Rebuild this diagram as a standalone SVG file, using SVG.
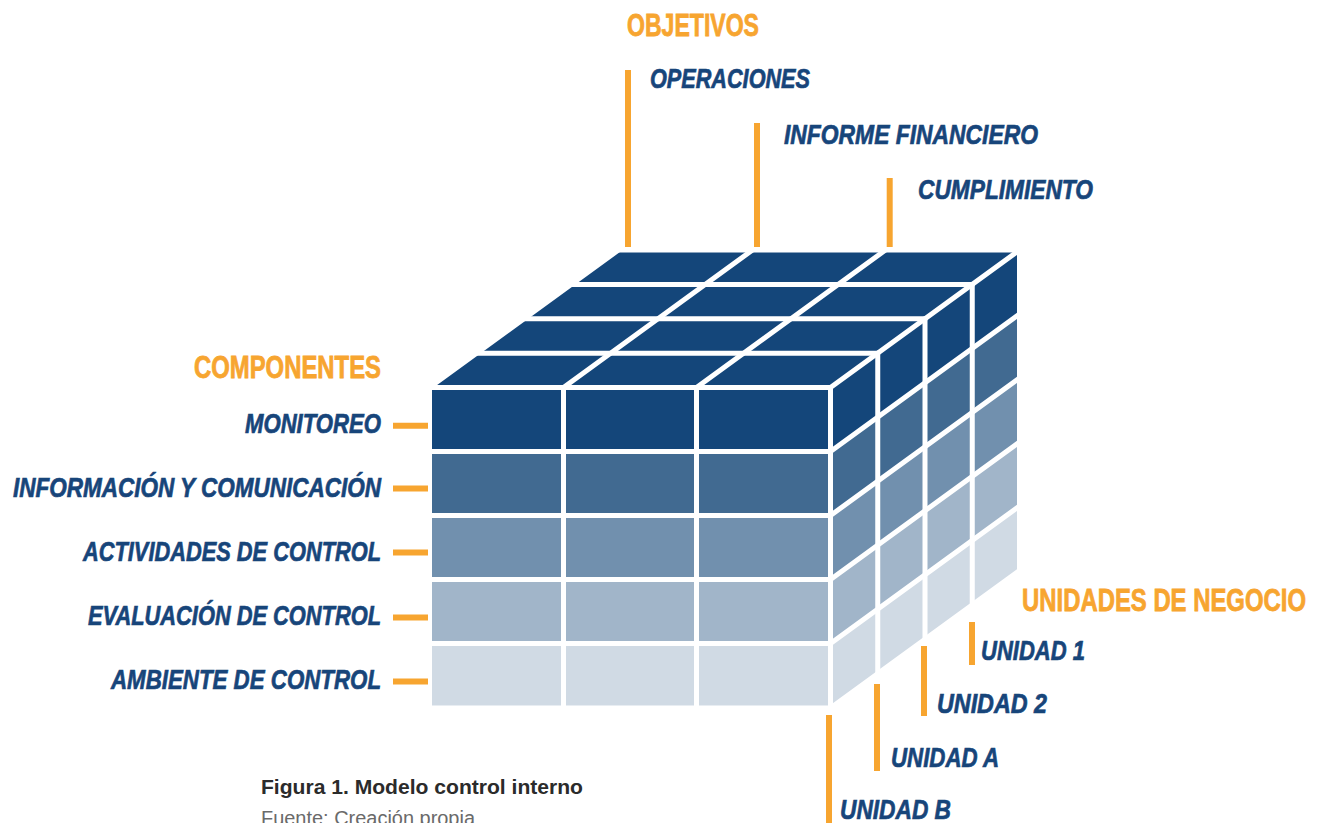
<svg xmlns="http://www.w3.org/2000/svg" width="1322" height="823" viewBox="0 0 1322 823">
  <style>
    .hdr { font-family: "Liberation Sans", Arial, sans-serif; font-weight: bold; font-size: 31px; fill: #f7a530; stroke: #f7a530; stroke-width: 0.8px; }
    .lbl { font-family: "Liberation Sans", Arial, sans-serif; font-weight: bold; font-style: italic; font-size: 28px; fill: #17457a; stroke: #17457a; stroke-width: 0.7px; }
    .cap { font-family: "Liberation Sans", Arial, sans-serif; font-weight: bold; font-size: 19.5px; fill: #2b2b2b; }
    .src { font-family: "Liberation Sans", Arial, sans-serif; font-size: 19.5px; fill: #6a6a6a; }
    .c1 { fill: #14467a; }
    .c2 { fill: #416a91; }
    .c3 { fill: #7190ae; }
    .c4 { fill: #a1b5c9; }
    .c5 { fill: #d0dae4; }
    .grid { stroke: #ffffff; stroke-width: 5; fill: none; stroke-linecap: round; stroke-linejoin: round; }
    .conn { stroke: #f7a530; stroke-width: 6; fill: none; }
  </style>
  <rect x="0" y="0" width="1322" height="823" fill="#ffffff"/>

  <g id="cube">
    <g id="front-face">
      <rect class="c1" x="429.5" y="387.5" width="401" height="64"/>
      <rect class="c2" x="429.5" y="451.5" width="401" height="64"/>
      <rect class="c3" x="429.5" y="515.5" width="401" height="64"/>
      <rect class="c4" x="429.5" y="579.5" width="401" height="64"/>
      <rect class="c5" x="429.5" y="643.5" width="401" height="64.5"/>
    </g>
    <g id="top-face">
      <polygon class="c1" points="429.5,387.5 830.5,387.5 1019.5,250 618.5,250"/>
    </g>
    <g id="side-face">
      <polygon class="c1" points="830.5,387.5 1019.5,250 1019.5,314 830.5,451.5"/>
      <polygon class="c2" points="830.5,451.5 1019.5,314 1019.5,378 830.5,515.5"/>
      <polygon class="c3" points="830.5,515.5 1019.5,378 1019.5,442 830.5,579.5"/>
      <polygon class="c4" points="830.5,579.5 1019.5,442 1019.5,506 830.5,643.5"/>
      <polygon class="c5" points="830.5,643.5 1019.5,506 1019.5,570.5 830.5,708"/>
    </g>
    <g id="grid-lines" class="grid">
      <path d="M429.5,387.5V708 M563.5,387.5V708 M696.5,387.5V708 M830.5,387.5V708"/>
      <path d="M429.5,387.5H830.5 M429.5,451.5H830.5 M429.5,515.5H830.5 M429.5,579.5H830.5 M429.5,643.5H830.5 M429.5,708H830.5"/>
      <path d="M476.75,353.125H877.75 M524,318.75H925 M571.25,284.375H972.25 M618.5,250H1019.5"/>
      <path d="M429.5,387.5L618.5,250 M563.5,387.5L752.5,250 M696.5,387.5L885.5,250 M830.5,387.5L1019.5,250"/>
      <path d="M877.75,353.125V673.625 M925,318.75V639.25 M972.25,284.375V604.875 M1019.5,250V570.5"/>
      <path d="M830.5,451.5L1019.5,314 M830.5,515.5L1019.5,378 M830.5,579.5L1019.5,442 M830.5,643.5L1019.5,506 M830.5,708L1019.5,570.5"/>
    </g>
  </g>

  <g id="connectors">
    <line class="conn" x1="628" y1="70" x2="628" y2="247"/>
    <line class="conn" x1="757" y1="123" x2="757" y2="247"/>
    <line class="conn" x1="889.7" y1="178" x2="889.7" y2="247"/>
    <line class="conn" x1="393" y1="425.7" x2="428" y2="425.7"/>
    <line class="conn" x1="393" y1="488.5" x2="428" y2="488.5"/>
    <line class="conn" x1="393" y1="552.5" x2="428" y2="552.5"/>
    <line class="conn" x1="393" y1="617.5" x2="428" y2="617.5"/>
    <line class="conn" x1="393" y1="681.5" x2="428" y2="681.5"/>
    <line class="conn" x1="972" y1="622" x2="972" y2="665"/>
    <line class="conn" x1="924" y1="646" x2="924" y2="716"/>
    <line class="conn" x1="877" y1="684" x2="877" y2="771"/>
    <line class="conn" x1="829" y1="715" x2="829" y2="823"/>
  </g>

  <g id="objetivos">
    <text class="hdr" x="627" y="36" textLength="132" lengthAdjust="spacingAndGlyphs">OBJETIVOS</text>
  </g>
  <g id="operaciones">
    <text class="lbl" x="650" y="88" textLength="160" lengthAdjust="spacingAndGlyphs">OPERACIONES</text>
  </g>
  <g id="informe-financiero">
    <text class="lbl" x="784" y="144" textLength="254" lengthAdjust="spacingAndGlyphs">INFORME FINANCIERO</text>
  </g>
  <g id="cumplimiento">
    <text class="lbl" x="918" y="199" textLength="175" lengthAdjust="spacingAndGlyphs">CUMPLIMIENTO</text>
  </g>

  <g id="componentes">
    <text class="hdr" x="194" y="378" textLength="187" lengthAdjust="spacingAndGlyphs">COMPONENTES</text>
  </g>
  <g id="monitoreo">
    <text class="lbl" x="245" y="433" textLength="136" lengthAdjust="spacingAndGlyphs">MONITOREO</text>
  </g>
  <g id="informacion">
    <text class="lbl" x="13" y="497" textLength="368" lengthAdjust="spacingAndGlyphs">INFORMACIÓN Y COMUNICACIÓN</text>
  </g>
  <g id="actividades">
    <text class="lbl" x="83" y="561" textLength="298" lengthAdjust="spacingAndGlyphs">ACTIVIDADES DE CONTROL</text>
  </g>
  <g id="evaluacion">
    <text class="lbl" x="88" y="625" textLength="293" lengthAdjust="spacingAndGlyphs">EVALUACIÓN DE CONTROL</text>
  </g>
  <g id="ambiente">
    <text class="lbl" x="111" y="689" textLength="270" lengthAdjust="spacingAndGlyphs">AMBIENTE DE CONTROL</text>
  </g>

  <g id="unidades-negocio">
    <text class="hdr" x="1022" y="611" textLength="284" lengthAdjust="spacingAndGlyphs">UNIDADES DE NEGOCIO</text>
  </g>
  <g id="unidad-1">
    <text class="lbl" x="981" y="660" textLength="104" lengthAdjust="spacingAndGlyphs">UNIDAD 1</text>
  </g>
  <g id="unidad-2">
    <text class="lbl" x="937" y="713" textLength="110" lengthAdjust="spacingAndGlyphs">UNIDAD 2</text>
  </g>
  <g id="unidad-a">
    <text class="lbl" x="891" y="767" textLength="108" lengthAdjust="spacingAndGlyphs">UNIDAD A</text>
  </g>
  <g id="unidad-b">
    <text class="lbl" x="840" y="819" textLength="111" lengthAdjust="spacingAndGlyphs">UNIDAD B</text>
  </g>

  <g id="caption">
    <text class="cap" x="261" y="794" textLength="322" lengthAdjust="spacingAndGlyphs">Figura 1. Modelo control interno</text>
    <text class="src" x="261" y="825" textLength="214" lengthAdjust="spacingAndGlyphs">Fuente: Creación propia</text>
  </g>
</svg>
